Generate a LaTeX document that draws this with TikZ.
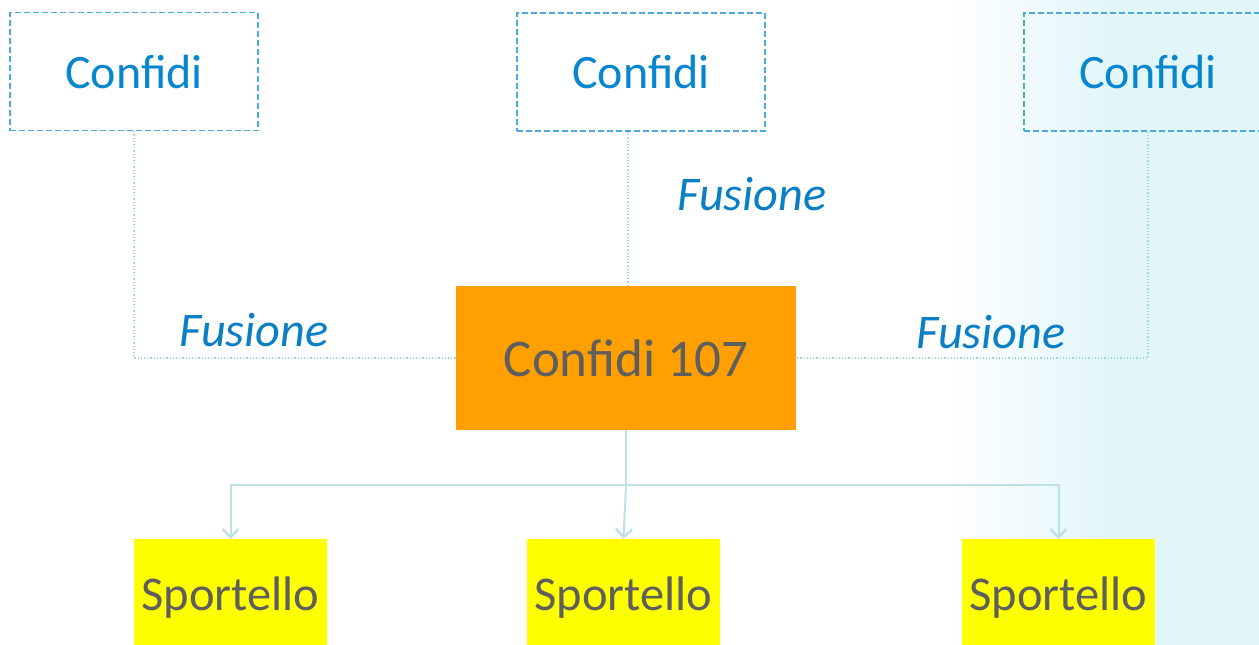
\documentclass[tikz,border=0pt]{standalone}
\usepackage{fontspec}
\setmainfont{Carlito}
\usetikzlibrary{arrows.meta}
\definecolor{cblue}{HTML}{0586CF}
\definecolor{fblue}{HTML}{0A7FC6}
\definecolor{dashblue}{HTML}{4AAADC}
\definecolor{tgray}{HTML}{5E5E5E}
\definecolor{corange}{HTML}{FFA000}
\definecolor{cyellow}{HTML}{FFFF00}
\definecolor{arrowc}{HTML}{BEE0E6}
\definecolor{dotc}{HTML}{9FD6DB}
\definecolor{bgcyan}{HTML}{E2F6FA}
\tikzset{
  confbox/.style={draw=dashblue, line width=1.3pt, dash pattern=on 6pt off 3pt,
    minimum width=248pt, minimum height=118pt, inner sep=0pt,
    font=\fontsize{48}{50}\selectfont, text=cblue},
  mainbox/.style={fill=corange, minimum width=340pt, minimum height=144pt, inner sep=0pt,
    font=\fontsize{53}{56}\selectfont, text=tgray},
  sportbox/.style={fill=cyellow, minimum width=193pt, minimum height=118pt, inner sep=0pt,
    font=\fontsize{48.5}{50}\selectfont, text=tgray},
  fuslabel/.style={font=\fontsize{48.3}{50}\selectfont\itshape, text=fblue, inner sep=0pt},
  fuse/.style={draw=dotc, line width=1.2pt, dotted},
  arr/.style={draw=arrowc, line width=2pt, -{Straight Barb[length=8pt,width=16pt,line width=2.5pt]}},
  bus/.style={draw=arrowc, line width=2pt}
}
\begin{document}
\begin{tikzpicture}[x=1pt,y=-1pt]
\useasboundingbox (0,0) rectangle (1259,645);
\clip (0,0) rectangle (1259,645);
\fill[white] (0,0) rectangle (1259,645);
\shade[left color=white, right color=bgcyan, shading angle=90] (945,0) rectangle (1110,645);
\fill[bgcyan] (1109,0) rectangle (1259,645);

\node[confbox] (c1) at (134,71.5) {Confidi};
\node[confbox] (c2) at (641,72) {Confidi};
\node[confbox] (c3) at (1148,72) {Confidi};

\node[mainbox] (main) at (626,358) {Confidi 107};

\node[sportbox] (s1) at (230.5,598) {Sportello};
\node[sportbox] (s2) at (623.5,598) {Sportello};
\node[sportbox] (s3) at (1058.5,598) {Sportello};

\node[fuslabel] (f1) at (254,330) {Fusione};
\node[fuslabel] (f2) at (752,194) {Fusione};
\node[fuslabel] (f3) at (991,332) {Fusione};

\draw[fuse] (c1.south) |- (main.west);
\draw[fuse] ([xshift=2pt]main.north) -- ([xshift=2pt]main.north |- c2.south);
\draw[fuse] (c3.south) |- (main.east);

\coordinate (j) at (626,485);
\draw[bus] (main.south) -- (j);
\draw[arr] (j) -| (s1.north);
\draw[arr] (j) -| (s3.north);
\draw[arr] (j) -- (s2.north);
\end{tikzpicture}
\end{document}
